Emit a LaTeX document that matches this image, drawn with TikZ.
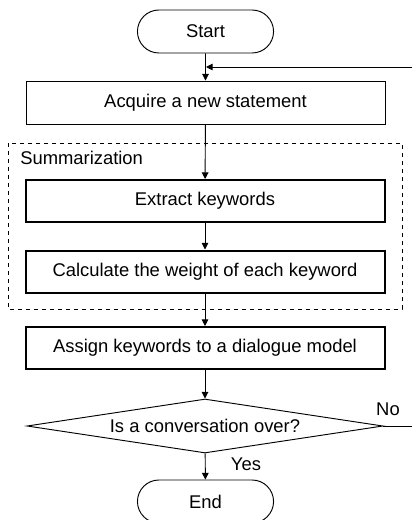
\documentclass[tikz,border=0pt]{standalone}
\usepackage{fontspec}
\setmainfont{Liberation Sans}
\usetikzlibrary{shapes.geometric,shapes.misc,arrows.meta}
\begin{document}
\begin{tikzpicture}[x=0.75pt,y=-0.75pt,
  every node/.style={font=\fontsize{13.8}{16}\selectfont},
  term/.style={draw,rounded rectangle,minimum width=145*0.75pt,minimum height=43*0.75pt,line width=0.7pt},
  thinbox/.style={draw,rectangle,minimum width=359*0.75pt,minimum height=43*0.75pt,line width=0.7pt},
  thickbox/.style={draw,rectangle,minimum width=359*0.75pt,minimum height=42*0.75pt,line width=1.5pt},
  decision/.style={draw,diamond,aspect=6.6,minimum width=356*0.75pt,minimum height=54*0.75pt,inner sep=0pt,line width=0.7pt},
  conn/.style={draw,line width=0.7pt,-{Triangle[length=5pt,width=5pt]}},
  plain/.style={draw,line width=0.7pt}]
\useasboundingbox (0,0) rectangle (412,520);
\clip (0,0) rectangle (412,520);
\node[term] (start) at (205.5,31.5) {Start};
\node[thinbox] (acq) at (205.5,102.5) {Acquire a new statement};
\draw[dashed,line width=0.7pt] (8,143) rectangle (402,309);
\node[anchor=west,inner sep=0pt] (sumlbl) at (20,158) {Summarization};
\node[thickbox] (ext) at (205,201) {Extract keywords};
\node[thickbox] (calc) at (205,271.5) {Calculate the weight of each keyword};
\node[thickbox] (assign) at (205,348) {Assign keywords to a dialogue model};
\node[decision] (dec) at (205,426) {Is a conversation over?};
\node[term] (end) at (205.5,501.5) {End};
\node[inner sep=0pt] (nolbl) at (388,409) {No};
\node[inner sep=0pt] (yeslbl) at (246,464) {Yes};
\coordinate (loopin) at (206,67);
\coordinate (loopR) at (412,67);
\coordinate (noR) at (412,426);
\draw[conn] (start) -- (acq);
\draw[conn] (loopR) -- (loopin);
\draw[conn] (acq) -- (ext);
\draw[conn] (ext) -- (calc);
\draw[conn] (calc) -- (assign);
\draw[conn] (assign) -- (dec);
\draw[conn] (dec) -- (end);
\draw[plain] (dec.east) -- (noR);
\end{tikzpicture}
\end{document}
